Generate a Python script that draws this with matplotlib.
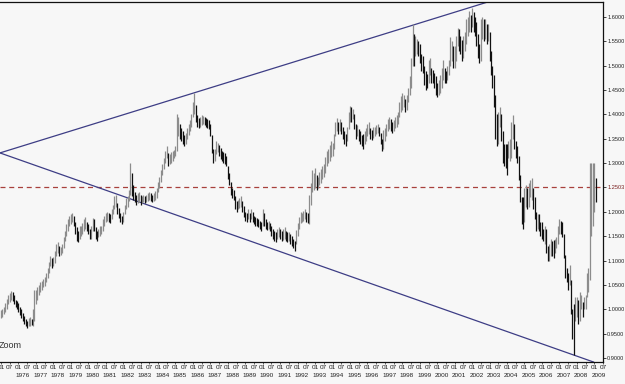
import numpy as np
import matplotlib.pyplot as plt
from matplotlib.transforms import blended_transform_factory

# monthly bars, Jan 1975 .. Feb 2009 (one row per year)
start_year = 1975
lo = [
    0.982, 0.985, 0.990, 0.995, 1.000, 1.010, 1.015, 1.020, 1.018, 1.010, 1.005, 1.000,  # 1975
    0.995, 0.988, 0.982, 0.975, 0.970, 0.965, 0.962, 0.965, 0.966, 0.968, 0.965, 0.975,  # 1976
    1.010, 1.020, 1.030, 1.035, 1.040, 1.045, 1.048, 1.055, 1.065, 1.075, 1.088, 1.085,  # 1977
    1.088, 1.095, 1.110, 1.115, 1.110, 1.112, 1.115, 1.125, 1.140, 1.150, 1.160, 1.170,  # 1978
    1.175, 1.180, 1.172, 1.155, 1.140, 1.138, 1.145, 1.150, 1.155, 1.160, 1.165, 1.160,  # 1979
    1.155, 1.145, 1.145, 1.160, 1.160, 1.145, 1.140, 1.148, 1.150, 1.155, 1.160, 1.170,  # 1980
    1.180, 1.182, 1.180, 1.178, 1.185, 1.195, 1.205, 1.210, 1.195, 1.188, 1.180, 1.175,  # 1981
    1.180, 1.195, 1.205, 1.210, 1.222, 1.235, 1.232, 1.225, 1.220, 1.215, 1.218, 1.220,  # 1982
    1.215, 1.218, 1.220, 1.218, 1.220, 1.222, 1.225, 1.222, 1.220, 1.222, 1.225, 1.228,  # 1983
    1.240, 1.250, 1.262, 1.275, 1.288, 1.300, 1.310, 1.295, 1.298, 1.300, 1.305, 1.310,  # 1984
    1.315, 1.325, 1.355, 1.350, 1.345, 1.340, 1.335, 1.340, 1.350, 1.358, 1.365, 1.375,  # 1985
    1.395, 1.400, 1.385, 1.375, 1.372, 1.375, 1.378, 1.380, 1.378, 1.375, 1.372, 1.370,  # 1986
    1.355, 1.320, 1.300, 1.305, 1.318, 1.322, 1.315, 1.308, 1.305, 1.300, 1.298, 1.295,  # 1987
    1.268, 1.255, 1.235, 1.228, 1.225, 1.205, 1.200, 1.205, 1.208, 1.210, 1.200, 1.190,  # 1988
    1.182, 1.180, 1.185, 1.180, 1.185, 1.180, 1.175, 1.172, 1.170, 1.168, 1.165, 1.160,  # 1989
    1.170, 1.172, 1.165, 1.162, 1.165, 1.160, 1.150, 1.145, 1.140, 1.138, 1.145, 1.148,  # 1990
    1.145, 1.140, 1.142, 1.145, 1.140, 1.138, 1.140, 1.135, 1.130, 1.125, 1.120, 1.135,  # 1991
    1.150, 1.165, 1.178, 1.180, 1.182, 1.185, 1.180, 1.178, 1.175, 1.215, 1.240, 1.245,  # 1992
    1.250, 1.245, 1.248, 1.255, 1.260, 1.268, 1.272, 1.280, 1.295, 1.300, 1.305, 1.312,  # 1993
    1.315, 1.330, 1.355, 1.365, 1.360, 1.365, 1.360, 1.350, 1.340, 1.335, 1.345, 1.370,  # 1994
    1.385, 1.385, 1.390, 1.370, 1.350, 1.355, 1.345, 1.340, 1.335, 1.330, 1.340, 1.345,  # 1995
    1.355, 1.360, 1.350, 1.348, 1.352, 1.355, 1.360, 1.362, 1.355, 1.340, 1.325, 1.330,  # 1996
    1.345, 1.355, 1.365, 1.370, 1.365, 1.362, 1.365, 1.372, 1.375, 1.380, 1.395, 1.405,  # 1997
    1.410, 1.415, 1.405, 1.410, 1.425, 1.440, 1.455, 1.500, 1.500, 1.520, 1.525, 1.520,  # 1998
    1.505, 1.490, 1.485, 1.460, 1.450, 1.455, 1.465, 1.480, 1.465, 1.465, 1.455, 1.440,  # 1999
    1.435, 1.440, 1.445, 1.455, 1.470, 1.465, 1.465, 1.470, 1.480, 1.500, 1.510, 1.495,  # 2000
    1.495, 1.510, 1.540, 1.530, 1.525, 1.510, 1.515, 1.530, 1.545, 1.560, 1.570, 1.570,  # 2001
    1.580, 1.570, 1.560, 1.540, 1.515, 1.505, 1.510, 1.555, 1.550, 1.555, 1.545, 1.550,  # 2002
    1.510, 1.480, 1.455, 1.415, 1.350, 1.335, 1.340, 1.375, 1.345, 1.300, 1.295, 1.290,  # 2003
    1.275, 1.310, 1.305, 1.310, 1.350, 1.330, 1.310, 1.300, 1.265, 1.220, 1.175, 1.165,  # 2004
    1.180, 1.210, 1.205, 1.210, 1.230, 1.225, 1.205, 1.185, 1.160, 1.165, 1.160, 1.150,  # 2005
    1.145, 1.140, 1.135, 1.115, 1.100, 1.100, 1.110, 1.110, 1.105, 1.115, 1.125, 1.135,  # 2006
    1.155, 1.155, 1.148, 1.105, 1.065, 1.055, 1.040, 1.050, 0.990, 0.940, 0.906, 0.975,  # 2007
    0.985, 0.970, 0.975, 1.000, 0.985, 1.000, 1.000, 1.025, 1.035, 1.060, 1.150, 1.170,  # 2008
    1.200, 1.220,                                                                        # 2009
]
hi = [
    0.998, 1.000, 1.004, 1.012, 1.022, 1.030, 1.034, 1.038, 1.036, 1.030, 1.020, 1.016,  # 1975
    1.012, 1.005, 1.000, 0.992, 0.986, 0.980, 0.976, 0.982, 0.985, 0.980, 1.000, 1.040,  # 1976
    1.040, 1.045, 1.050, 1.055, 1.058, 1.062, 1.066, 1.075, 1.085, 1.098, 1.110, 1.105,  # 1977
    1.108, 1.120, 1.135, 1.138, 1.130, 1.128, 1.135, 1.148, 1.160, 1.175, 1.185, 1.192,  # 1978
    1.195, 1.198, 1.192, 1.180, 1.168, 1.160, 1.170, 1.172, 1.178, 1.185, 1.190, 1.180,  # 1979
    1.175, 1.165, 1.170, 1.188, 1.185, 1.168, 1.160, 1.165, 1.170, 1.172, 1.185, 1.192,  # 1980
    1.198, 1.200, 1.198, 1.195, 1.205, 1.215, 1.232, 1.235, 1.218, 1.208, 1.198, 1.192,  # 1981
    1.200, 1.215, 1.228, 1.232, 1.245, 1.300, 1.280, 1.255, 1.240, 1.235, 1.238, 1.240,  # 1982
    1.235, 1.232, 1.235, 1.232, 1.235, 1.238, 1.240, 1.238, 1.235, 1.238, 1.242, 1.248,  # 1983
    1.262, 1.272, 1.285, 1.298, 1.310, 1.325, 1.335, 1.320, 1.318, 1.322, 1.325, 1.328,  # 1984
    1.335, 1.400, 1.395, 1.380, 1.372, 1.365, 1.358, 1.362, 1.372, 1.380, 1.388, 1.400,  # 1985
    1.425, 1.445, 1.420, 1.398, 1.392, 1.395, 1.398, 1.396, 1.395, 1.392, 1.390, 1.388,  # 1986
    1.380, 1.358, 1.330, 1.330, 1.345, 1.342, 1.338, 1.332, 1.325, 1.322, 1.320, 1.315,  # 1987
    1.295, 1.280, 1.262, 1.250, 1.245, 1.232, 1.222, 1.225, 1.228, 1.232, 1.222, 1.212,  # 1988
    1.200, 1.198, 1.205, 1.198, 1.205, 1.200, 1.192, 1.190, 1.188, 1.185, 1.182, 1.180,  # 1989
    1.205, 1.198, 1.185, 1.180, 1.182, 1.178, 1.170, 1.165, 1.160, 1.158, 1.165, 1.168,  # 1990
    1.165, 1.160, 1.165, 1.168, 1.160, 1.158, 1.158, 1.155, 1.150, 1.145, 1.140, 1.162,  # 1991
    1.178, 1.190, 1.200, 1.198, 1.202, 1.205, 1.200, 1.198, 1.235, 1.260, 1.285, 1.280,  # 1992
    1.290, 1.275, 1.272, 1.282, 1.288, 1.295, 1.298, 1.312, 1.325, 1.330, 1.338, 1.345,  # 1993
    1.342, 1.360, 1.385, 1.392, 1.385, 1.390, 1.385, 1.375, 1.365, 1.360, 1.375, 1.405,  # 1994
    1.418, 1.415, 1.412, 1.400, 1.380, 1.378, 1.370, 1.365, 1.358, 1.360, 1.365, 1.372,  # 1995
    1.380, 1.385, 1.372, 1.368, 1.375, 1.375, 1.378, 1.380, 1.375, 1.362, 1.350, 1.368,  # 1996
    1.372, 1.380, 1.390, 1.395, 1.390, 1.385, 1.388, 1.395, 1.398, 1.405, 1.425, 1.438,  # 1997
    1.445, 1.440, 1.432, 1.440, 1.455, 1.478, 1.515, 1.585, 1.565, 1.560, 1.555, 1.550,  # 1998
    1.545, 1.525, 1.520, 1.500, 1.490, 1.482, 1.512, 1.515, 1.495, 1.492, 1.485, 1.478,  # 1999
    1.465, 1.470, 1.480, 1.495, 1.512, 1.495, 1.490, 1.500, 1.512, 1.558, 1.550, 1.540,  # 2000
    1.540, 1.560, 1.578, 1.575, 1.560, 1.552, 1.560, 1.570, 1.595, 1.600, 1.612, 1.605,  # 2001
    1.618, 1.610, 1.600, 1.590, 1.565, 1.545, 1.595, 1.600, 1.595, 1.595, 1.585, 1.585,  # 2002
    1.570, 1.530, 1.500, 1.480, 1.440, 1.400, 1.405, 1.415, 1.400, 1.365, 1.340, 1.340,  # 2003
    1.340, 1.345, 1.350, 1.385, 1.398, 1.380, 1.345, 1.335, 1.315, 1.275, 1.230, 1.230,  # 2004
    1.250, 1.255, 1.250, 1.260, 1.265, 1.270, 1.250, 1.230, 1.200, 1.195, 1.195, 1.180,  # 2005
    1.180, 1.165, 1.172, 1.165, 1.130, 1.135, 1.145, 1.140, 1.142, 1.145, 1.148, 1.170,  # 2006
    1.185, 1.182, 1.180, 1.155, 1.112, 1.085, 1.075, 1.090, 1.060, 1.000, 1.010, 1.025,  # 2007
    1.025, 1.020, 1.035, 1.030, 1.015, 1.025, 1.030, 1.075, 1.085, 1.300, 1.300, 1.300,  # 2008
    1.300, 1.270,                                                                        # 2009
]

# red reference level
last_level = 1.2503

# trend lines (apex on the left, touching the 1986/1998 highs and the 2007 low)
apex = (1974.94, 1.321)
upper_touch = (1998.58, 1.583)
lower_touch = (2007.83, 0.906)

price_ticks = [0.90, 0.95, 1.00, 1.05, 1.10, 1.15, 1.20, 1.30, 1.35, 1.40, 1.45, 1.50, 1.55, 1.60]
years = list(range(1976, 2010))

lo = np.array(lo)
hi = np.array(hi)
t = start_year + np.arange(len(lo)) / 12.0

bg = '#f7f7f7'
fig = plt.figure(figsize=(6.25, 3.84), dpi=100, facecolor=bg)
ax = fig.add_axes([0, 1 - 362 / 384, 603 / 625, 360 / 384], facecolor=bg)

# bars: grey when the month moved up, black when it moved down
mid = (lo + hi) / 2
up = np.r_[True, mid[1:] >= mid[:-1]]
ax.vlines(t[up], lo[up], hi[up], color='#8c8c8c', lw=0.9, zorder=3)
ax.vlines(t[~up], lo[~up], hi[~up], color='#111111', lw=0.9, zorder=3)

ax.axline(apex, upper_touch, color='#3d3d85', lw=0.9, zorder=2)
ax.axline(apex, lower_touch, color='#3d3d85', lw=0.9, zorder=2)
ax.axhline(last_level, color='#a8403c', lw=0.9, dashes=(4, 3), zorder=1)

ax.set_xlim(1974.943, 2009.34)
ax.set_ylim(0.8918, 1.6308)

# price axis on the right
ax.yaxis.tick_right()
ax.set_yticks(price_ticks + [last_level])
ax.set_yticklabels(['%.4f' % v for v in price_ticks] + ['%.4f' % last_level],
                   fontsize=4.1, family='Liberation Sans')
ax.tick_params(axis='y', length=2.0, width=0.6, pad=1.0, colors='#222222')
ax.get_yticklabels()[-1].set_color('#7a2020')

# month labels along the bottom, years underneath
months = []
labels = []
for y in range(start_year, 2010):
    months += [y, y + 0.5]
    labels += ['01', '07']
ax.set_xticks(months)
ax.set_xticklabels(labels, fontsize=4.6, family='Liberation Sans')
ax.tick_params(axis='x', length=1.5, width=0.5, pad=1.0, colors='#222222')
tr = blended_transform_factory(ax.transData, ax.transAxes)
for y in years:
    ax.text(y + 0.25, -0.031, str(y), transform=tr, ha='center', va='top',
            fontsize=4.6, family='Liberation Sans', color='#222222')

ax.text(-0.002, 0.045, 'Zoom', transform=ax.transAxes, ha='left', va='center',
        fontsize=6.5, family='Liberation Sans', color='#333333')

ax.spines['left'].set_visible(False)
for s in ['top', 'right', 'bottom']:
    ax.spines[s].set_linewidth(0.9)
    ax.spines[s].set_color('#111111')

fig.savefig('out.png', dpi=100, facecolor=bg)
